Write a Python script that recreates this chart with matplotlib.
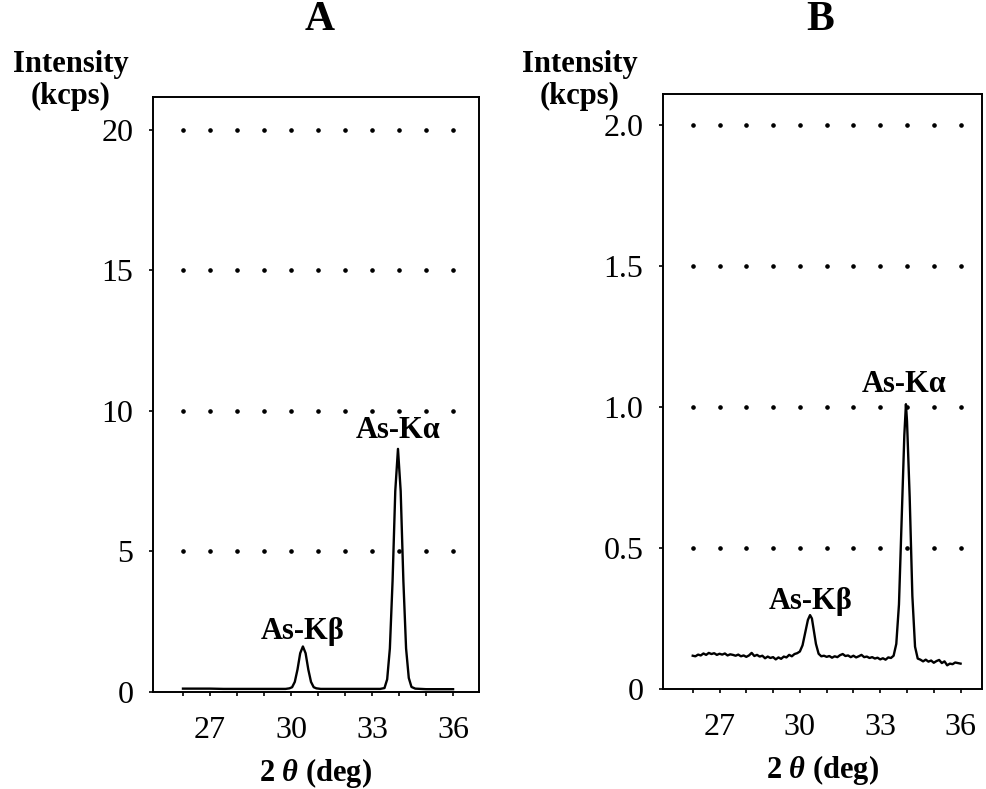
import matplotlib
matplotlib.use("Agg")
import matplotlib.pyplot as plt

plt.rcParams["font.family"] = ["Liberation Serif", "DejaVu Serif"]
plt.rcParams["mathtext.fontset"] = "custom"
plt.rcParams["mathtext.it"] = "Liberation Serif:italic:bold"
plt.rcParams["mathtext.rm"] = "Liberation Serif:bold"

# panel A: intensity (kcps) vs 2-theta (deg)
two_theta_a = [26.0, 26.5, 27.0, 27.5, 28.0, 28.5, 29.0, 29.5, 29.8, 29.94, 30.04, 30.14,
               30.24, 30.34, 30.44, 30.54, 30.64, 30.74, 30.84, 30.94, 31.1, 31.5, 32.0,
               32.5, 33.0, 33.3, 33.46, 33.56, 33.66, 33.76, 33.86, 33.96, 34.06, 34.16,
               34.26, 34.36, 34.46, 34.6, 35.0, 35.5, 36.0]
intensity_a = [0.12, 0.12, 0.12, 0.11, 0.11, 0.11, 0.11, 0.11, 0.11, 0.13, 0.17, 0.36,
               0.80, 1.38, 1.62, 1.38, 0.80, 0.36, 0.17, 0.13, 0.11, 0.11, 0.11,
               0.11, 0.11, 0.11, 0.14, 0.45, 1.55, 3.95, 7.15, 8.65, 7.15, 3.95,
               1.55, 0.50, 0.18, 0.12, 0.10, 0.10, 0.10]

# panel B: noisier, lower-intensity spectrum
two_theta_b = [26.0, 26.1, 26.2, 26.3, 26.4, 26.5, 26.6, 26.7, 26.8, 26.9,
               27.0, 27.1, 27.2, 27.3, 27.4, 27.5, 27.6, 27.7, 27.8, 27.9,
               28.0, 28.1, 28.2, 28.3, 28.4, 28.5, 28.6, 28.7, 28.8, 28.9,
               29.0, 29.1, 29.2, 29.3, 29.4, 29.5, 29.6, 29.7, 29.8, 29.9,
               30.0, 30.1, 30.2, 30.3, 30.38, 30.45, 30.5, 30.6, 30.7, 30.8, 30.9,
               31.0, 31.1, 31.2, 31.3, 31.4, 31.5, 31.6, 31.7, 31.8, 31.9,
               32.0, 32.1, 32.2, 32.3, 32.4, 32.5, 32.6, 32.7, 32.8, 32.9,
               33.0, 33.1, 33.2, 33.3, 33.4, 33.5, 33.6, 33.7, 33.8, 33.9, 33.96,
               34.0, 34.1, 34.2, 34.3, 34.4, 34.5, 34.6, 34.7, 34.8, 34.9,
               35.0, 35.1, 35.2, 35.3, 35.4, 35.5, 35.6, 35.7, 35.8, 35.9, 36.0]
intensity_b = [0.118, 0.116, 0.122, 0.119, 0.126, 0.121, 0.128, 0.124, 0.127, 0.121,
               0.125, 0.122, 0.126, 0.119, 0.123, 0.121, 0.118, 0.122, 0.116, 0.119,
               0.114, 0.119, 0.128, 0.117, 0.121, 0.115, 0.118, 0.109, 0.115, 0.110,
               0.113, 0.105, 0.112, 0.107, 0.115, 0.112, 0.121, 0.116, 0.124, 0.127,
               0.133, 0.155, 0.200, 0.245, 0.262, 0.250, 0.220, 0.160, 0.125, 0.116, 0.118,
               0.114, 0.117, 0.111, 0.116, 0.113, 0.120, 0.124, 0.117, 0.119, 0.113,
               0.118, 0.112, 0.116, 0.121, 0.113, 0.115, 0.110, 0.113, 0.108, 0.111,
               0.105, 0.109, 0.104, 0.112, 0.110, 0.118, 0.160, 0.300, 0.600, 0.900, 1.010,
               0.950, 0.680, 0.330, 0.150, 0.108, 0.104, 0.098, 0.104, 0.097, 0.101,
               0.093, 0.099, 0.103, 0.092, 0.098, 0.084, 0.090, 0.088, 0.094, 0.092, 0.090]

x_ticks_all = [26, 27, 28, 29, 30, 31, 32, 33, 34, 35, 36]
x_tick_labels = [27, 30, 33, 36]
y_ticks_a = [0, 5, 10, 15, 20]
y_labels_a = ["0", "5", "10", "15", "20"]
y_ticks_b = [0, 0.5, 1.0, 1.5, 2.0]
y_labels_b = ["0", "0.5", "1.0", "1.5", "2.0"]

W, H = 987, 789
fig = plt.figure(figsize=(W / 100, H / 100), dpi=100)


def add_panel(px_box, xlim, ylim, x, y, yticks, ylabels, peak_labels, title, title_x, ylab_x):
    left, top, right, bottom = px_box
    ax = fig.add_axes([left / W, 1 - bottom / H, (right - left) / W, (bottom - top) / H])
    ax.plot(x, y, color="black", lw=1.7)
    # dotted guide rows at each nonzero y tick
    for yv in yticks[1:]:
        ax.plot(x_ticks_all, [yv] * len(x_ticks_all), linestyle="none",
                marker="o", ms=2.3, color="black")
    ax.set_xlim(*xlim)
    ax.set_ylim(*ylim)
    ax.set_xticks(x_tick_labels)
    ax.set_xticklabels([str(v) for v in x_tick_labels])
    ax.set_xticks([v for v in x_ticks_all if v not in x_tick_labels], minor=True)
    ax.set_yticks(yticks)
    ax.set_yticklabels(ylabels)
    ax.tick_params(axis="both", which="both", direction="out", length=3, width=1.2,
                   labelsize=23, pad=11)
    ax.tick_params(axis="x", which="major", pad=14)
    for spine in ax.spines.values():
        spine.set_linewidth(1.4)
    for text, tx, ty in peak_labels:
        ax.text(tx, ty, text, ha="center", va="center", fontsize=22, fontweight="bold")
    ax.set_xlabel(r"2 $\theta$ (deg)", fontsize=22, fontweight="bold", labelpad=8)
    fig.text(title_x / W, 1 - 20 / H, title, ha="center", va="center",
             fontsize=30, fontweight="bold")
    fig.text(ylab_x / W, 1 - 50 / H, "Intensity\n(kcps)", ha="center", va="top",
             multialignment="center", fontsize=22, fontweight="bold", linespacing=1.15)
    return ax


add_panel((153, 97, 479, 692), (24.89, 36.96), (0, 21.17), two_theta_a, intensity_a,
          y_ticks_a, y_labels_a,
          [("As-K\u03b2", 30.44, 2.17), ("As-K\u03b1", 33.96, 9.3)], "A", 320, 71)
add_panel((663, 94, 982, 689), (24.89, 36.8), (0, 2.11), two_theta_b, intensity_b,
          y_ticks_b, y_labels_b,
          [("As-K\u03b2", 30.4, 0.31), ("As-K\u03b1", 33.9, 1.08)], "B", 820, 580)

fig.savefig("out.png", dpi=100)
